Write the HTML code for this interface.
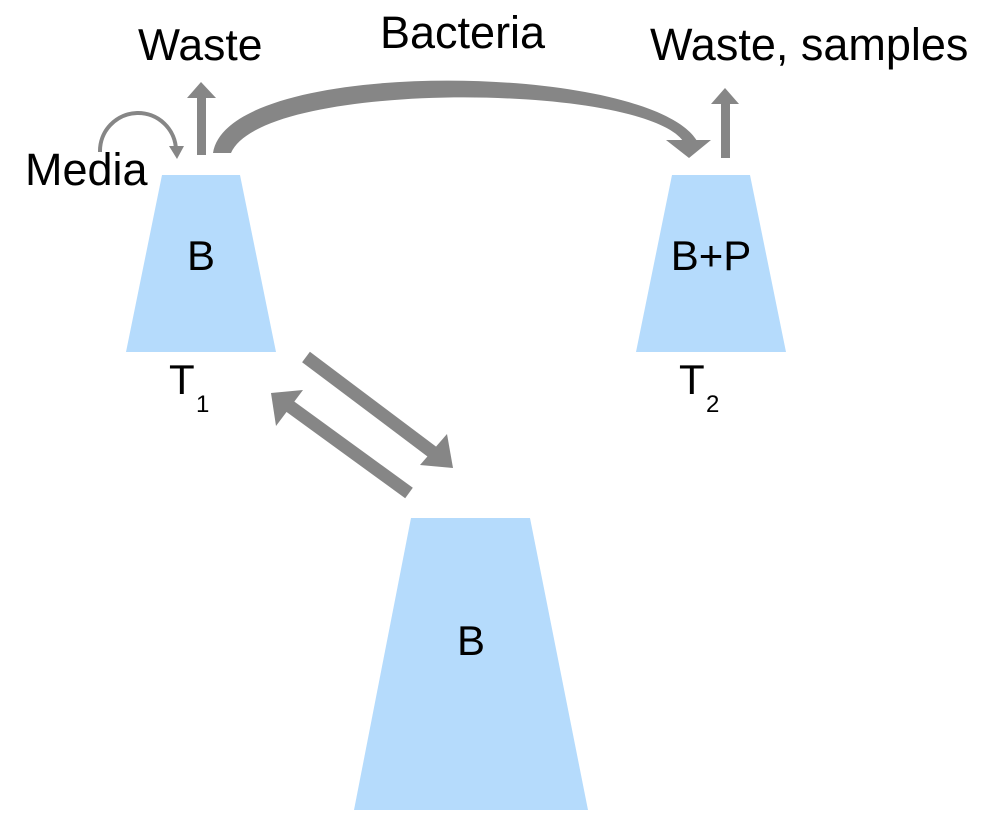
<!DOCTYPE html>
<html><head><style>
body{margin:0;background:#fff;}
svg text{font-family:"Liberation Sans",sans-serif;fill:#000;}
</style></head><body>
<svg width="1004" height="827" viewBox="0 0 1004 827" xmlns="http://www.w3.org/2000/svg">
<polygon points="162,175 240,175 276,352 126,352" fill="#b5dbfc"/>
<polygon points="672,175 750,175 786,352 636,352" fill="#b5dbfc"/>
<polygon points="411,518 530,518 588,810 354,810" fill="#b5dbfc"/>
<g fill="#868686" stroke="none">
<path d="M213,153 C228,55 650,62 697,141 L683,141 C640,82 262,80 231,153 Z"/>
<polygon points="666,140 711,140 689,158"/>
<rect x="197" y="96" width="9" height="59"/>
<polygon points="187,98 216,98 201,82"/>
<rect x="721" y="102" width="9" height="56"/>
<polygon points="711,104 739,104 725,88"/>
</g>
<path d="M100,152 A38,38 0 0 1 176,150" fill="none" stroke="#868686" stroke-width="4"/>
<polygon points="169,146 184,146 177,159" fill="#868686"/>
<g stroke="#868686" stroke-width="13" fill="none">
<line x1="306" y1="357" x2="435" y2="454"/>
<line x1="409" y1="493" x2="288" y2="405"/>
</g>
<polygon points="420,465 453,468 447,434" fill="#868686"/>
<polygon points="271,393 303,390 276,426" fill="#868686"/>
<text x="138" y="60" font-size="44.5">Waste</text>
<text x="380" y="48" font-size="45">Bacteria</text>
<text x="650" y="60" font-size="45">Waste, samples</text>
<text x="25" y="185" font-size="45">Media</text>
<text x="201" y="270" font-size="42" text-anchor="middle">B</text>
<text x="711" y="270" font-size="42" text-anchor="middle">B+P</text>
<text x="471" y="655" font-size="42" text-anchor="middle">B</text>
<text x="169" y="394" font-size="42">T</text><text x="196" y="412" font-size="24">1</text>
<text x="679" y="394" font-size="42">T</text><text x="706" y="412" font-size="24">2</text>
</svg>
</body></html>
